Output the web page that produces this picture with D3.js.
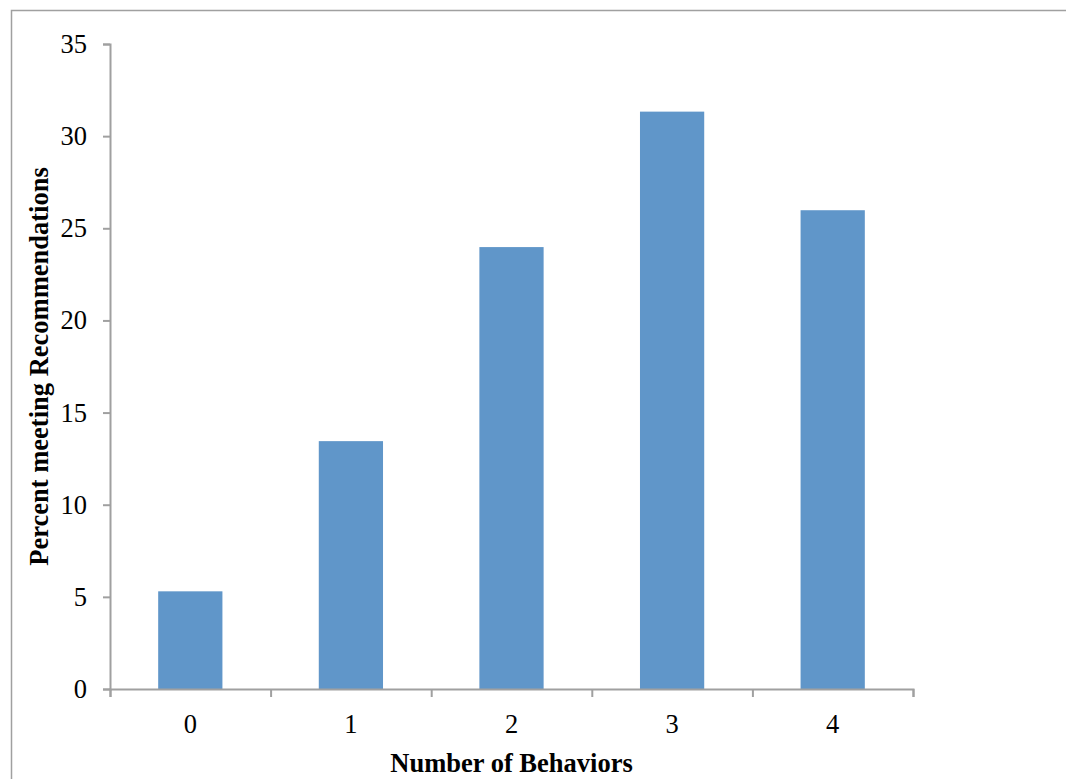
<!DOCTYPE html>
<html><head><meta charset="utf-8">
<script src="https://cdn.jsdelivr.net/npm/d3@7"></script>
<style>body{margin:0;background:#fff}svg{display:block}</style>
</head><body><svg id="c" width="1066" height="779"></svg>
<script>
const categories = ["0","1","2","3","4"];
const values = [5.3, 13.45, 23.98, 31.33, 25.98];
const yTicks = [0,5,10,15,20,25,30,35];
const xTitle = "Number of Behaviors";
const yTitle = "Percent meeting Recommendations";

const svg = d3.select("#c");
const font = "'Liberation Serif','Times New Roman',serif";
const fs = 26.5;
// outer frame
svg.append("path").attr("d","M11.5,779 V10.5 H1066").attr("fill","none").attr("stroke","#a0a0a0").attr("stroke-width",1.5);

const m = {l:110, r:913, t:44, b:689};
const x = d3.scaleBand().domain(categories).range([m.l, m.r]).paddingInner(0.6).paddingOuter(0.3);
const y = d3.scaleLinear().domain([0,35]).range([m.b, m.t]);

svg.append("g").selectAll("rect").data(values).join("rect")
  .attr("x",(d,i)=>x(categories[i])).attr("width",x.bandwidth())
  .attr("y",d=>y(d)).attr("height",d=>y(0)-y(d)).attr("fill","#6096C9");

// y axis
const ya = svg.append("g").attr("transform",`translate(${m.l},0)`)
  .call(d3.axisLeft(y).tickValues(yTicks).tickSize(7).tickPadding(16).tickFormat(d3.format("d")));
ya.attr("font-size",null).attr("font-family",null);
ya.select(".domain").attr("stroke","#a0a0a0").attr("stroke-width",2);
ya.selectAll(".tick line").attr("stroke","#a0a0a0").attr("stroke-width",2);
ya.selectAll("text").attr("font-family",font).attr("font-size",fs).attr("fill","#000");

// x axis
const xb = d3.scaleLinear().domain([0,categories.length]).range([m.l,m.r]);
const xa = svg.append("g").attr("transform",`translate(0,${m.b})`)
  .call(d3.axisBottom(xb).tickValues(d3.range(categories.length+1)).tickSize(8).tickFormat(""));
xa.select(".domain").attr("stroke","#a0a0a0").attr("stroke-width",2);
xa.selectAll(".tick line").attr("stroke","#a0a0a0").attr("stroke-width",2);
svg.append("g").selectAll("text").data(categories).join("text")
  .attr("x",d=>x(d)+x.bandwidth()/2).attr("y",m.b+44).attr("text-anchor","middle")
  .attr("font-family",font).attr("font-size",fs).text(d=>d);

svg.append("text").attr("x",(m.l+m.r)/2).attr("y",772).attr("text-anchor","middle")
  .attr("font-family",font).attr("font-size",fs).attr("font-weight","bold").text(xTitle);
svg.append("text").attr("transform",`translate(48,${(m.t+m.b)/2}) rotate(-90)`).attr("text-anchor","middle")
  .attr("font-family",font).attr("font-size",fs).attr("font-weight","bold").text(yTitle);
</script></body></html>
